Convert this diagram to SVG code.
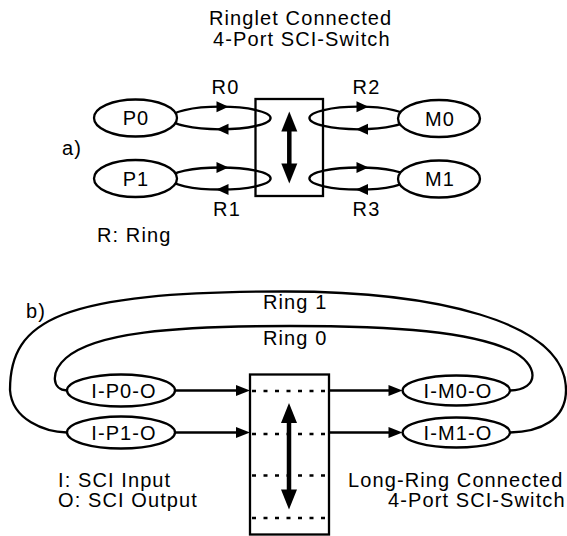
<svg xmlns="http://www.w3.org/2000/svg" xmlns:xlink="http://www.w3.org/1999/xlink" width="567" height="536" viewBox="0 0 567 536">
<style>
.t{font-family:"Liberation Sans",Arial,sans-serif;font-size:20px;letter-spacing:1.1px;fill:#000}
.m{text-anchor:middle}
.s{fill:none;stroke:#000;stroke-width:2.3}
.w{fill:#fff;stroke:#000;stroke-width:2.3}
.d{fill:none;stroke:#000;stroke-width:2.3;stroke-dasharray:4 7.5}
.h{fill:#000;stroke:none}
.sh{stroke:#000;stroke-width:4.5;fill:none}
</style>
<defs>
<path id="ah" d="M0,0 L-12,-5.5 L-12,5.5 Z"/>
<path id="ab" d="M0,0 L-14,-5.5 L-14,5.5 Z"/>
<path id="dh" d="M0,0 L-8,20 L8,20 Z"/>
</defs>
<rect width="567" height="536" fill="#fff"/>
<g id="title-a">
<text class="t" x="209" y="25">Ringlet Connected</text>
<text class="t" x="213" y="45.5">4-Port SCI-Switch</text>
</g>
<text class="t" x="62" y="155">a)</text>
<g id="connectors">
<ellipse class="s" cx="220.3" cy="118" rx="50.3" ry="11.3"/>
<ellipse class="s" cx="220.3" cy="178.5" rx="50.3" ry="11"/>
<ellipse class="s" cx="358.7" cy="118" rx="49.3" ry="11.3"/>
<ellipse class="s" cx="358.7" cy="178.5" rx="49.3" ry="11"/>
<use xlink:href="#ah" class="h" transform="translate(228.5,106.7)"/>
<use xlink:href="#ah" class="h" transform="translate(216.5,129.3) rotate(180)"/>
<use xlink:href="#ah" class="h" transform="translate(228.5,167.5)"/>
<use xlink:href="#ah" class="h" transform="translate(216.5,189.5) rotate(180)"/>
<use xlink:href="#ah" class="h" transform="translate(368.5,106.7)"/>
<use xlink:href="#ah" class="h" transform="translate(356,129.3) rotate(180)"/>
<use xlink:href="#ah" class="h" transform="translate(368.5,167.5)"/>
<use xlink:href="#ah" class="h" transform="translate(356,189.5) rotate(180)"/>
<path class="s" d="M67,432.5 C45,432 12,420 10,390 C10,320 60,291.5 285,291.5 C430,291.5 566,320 566,390 C566,420 540,432 510,432.5"/>
<path class="s" d="M67,390.5 C52,390 50,372 66,358 C95,333 170,326 290,326 C400,326 470,332 510,350 C540,364 540,390 510,390.5"/>
<line class="s" x1="175" y1="390.5" x2="238" y2="390.5"/>
<line class="s" x1="175" y1="432.5" x2="238" y2="432.5"/>
<line class="s" x1="329" y1="390.5" x2="390" y2="390.5"/>
<line class="s" x1="329" y1="432.5" x2="390" y2="432.5"/>
<use xlink:href="#ab" class="h" transform="translate(250,390.5)"/>
<use xlink:href="#ab" class="h" transform="translate(250,432.5)"/>
<use xlink:href="#ab" class="h" transform="translate(402.5,390.5)"/>
<use xlink:href="#ab" class="h" transform="translate(402.5,432.5)"/>
</g>
<g id="switch-a">
<rect class="s" x="255.5" y="99" width="67.5" height="97"/>
<line class="sh" x1="289.3" y1="128" x2="289.3" y2="167"/>
<use xlink:href="#dh" class="h" transform="translate(289.3,111.5)"/>
<use xlink:href="#dh" class="h" transform="translate(289.3,183.5) rotate(180)"/>
</g>
<g id="P0"><ellipse class="w" cx="135.5" cy="118" rx="41.5" ry="18.5"/><text class="t m" x="136" y="125">P0</text></g>
<g id="P1"><ellipse class="w" cx="135.5" cy="178.5" rx="41.5" ry="18.5"/><text class="t m" x="136" y="185.5">P1</text></g>
<g id="M0"><ellipse class="w" cx="439" cy="118.5" rx="41" ry="18.5"/><text class="t m" x="440" y="125.5">M0</text></g>
<g id="M1"><ellipse class="w" cx="439" cy="179" rx="41" ry="18.5"/><text class="t m" x="440" y="186">M1</text></g>
<g id="labels-a">
<text class="t m" x="225.5" y="93.5">R0</text>
<text class="t m" x="366.5" y="94">R2</text>
<text class="t m" x="227" y="216">R1</text>
<text class="t m" x="366.5" y="216">R3</text>
<text class="t" x="97" y="241.5">R: Ring</text>
</g>
<text class="t" x="26" y="318">b)</text>
<g id="ring-labels">
<text class="t" x="263" y="308.5">Ring 1</text>
<text class="t" x="263" y="345">Ring 0</text>
</g>
<g id="switch-b">
<rect class="s" x="250" y="374.5" width="79" height="160"/>
<line class="d" x1="252" y1="391" x2="329" y2="391"/>
<line class="d" x1="252" y1="434" x2="329" y2="434"/>
<line class="d" x1="252" y1="475.5" x2="329" y2="475.5"/>
<line class="d" x1="252" y1="518" x2="329" y2="518"/>
<line class="sh" x1="289" y1="420" x2="289" y2="492"/>
<use xlink:href="#dh" class="h" transform="translate(289,403)"/>
<use xlink:href="#dh" class="h" transform="translate(289,509.5) rotate(180)"/>
</g>
<g id="I-P0-O"><ellipse class="w" cx="121" cy="390.5" rx="54" ry="16"/><text class="t m" x="124" y="397.5">I-P0-O</text></g>
<g id="I-P1-O"><ellipse class="w" cx="121" cy="432.5" rx="54" ry="16"/><text class="t m" x="124" y="439.5">I-P1-O</text></g>
<g id="I-M0-O"><ellipse class="w" cx="456.3" cy="390.5" rx="53.7" ry="15"/><text class="t m" x="458" y="397.5">I-M0-O</text></g>
<g id="I-M1-O"><ellipse class="w" cx="456.3" cy="432.5" rx="53.7" ry="15"/><text class="t m" x="458" y="439.5">I-M1-O</text></g>
<g id="legend-b">
<text class="t" x="58" y="486.5">I: SCI Input</text>
<text class="t" x="58" y="507">O: SCI Output</text>
<text class="t" x="348" y="486.5">Long-Ring Connected</text>
<text class="t" x="388" y="507">4-Port SCI-Switch</text>
</g>
</svg>
